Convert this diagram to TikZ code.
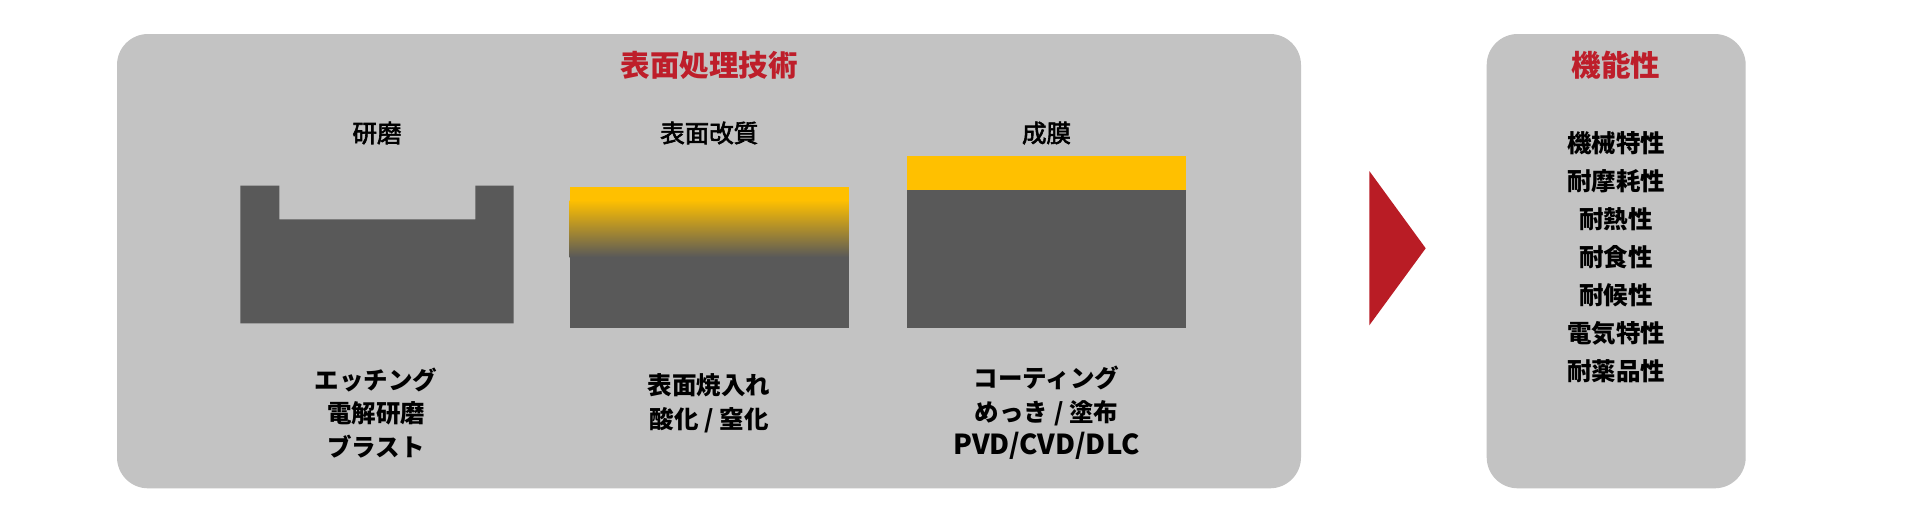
\documentclass[tikz,border=0pt]{standalone}
\usepackage{fontspec}
\setmainfont{Noto Sans CJK JP}
\newfontfamily\medfont[FakeBold=2.5]{Noto Sans CJK JP}
\definecolor{boxgray}{HTML}{C3C3C3}
\definecolor{dkg}{HTML}{595959}
\definecolor{ylw}{HTML}{FFC000}
\definecolor{rd}{HTML}{B91C25}
\definecolor{ttlred}{HTML}{BE1E2A}
\tikzset{
  titlelbl/.style={inner sep=0pt, text=ttlred, font=\bfseries\fontsize{29.5}{36}\selectfont},
  sublbl/.style={inner sep=0pt, text=black, font=\medfont\fontsize{24.5}{30}\selectfont},
  desclbl/.style={inner sep=0pt, text=black, align=center, font=\bfseries\fontsize{24.5}{33.7}\selectfont},
  listlbl/.style={inner sep=0pt, text=black, align=center, font=\bfseries\fontsize{24.5}{37.9}\selectfont},
  panel/.style={fill=boxgray, rounded corners=31pt},
}
\begin{document}
\begin{tikzpicture}[x=1pt,y=-1pt]
\useasboundingbox (0,0) rectangle (1920,509);
\fill[white] (0,0) rectangle (1920,509);
% panels
\fill[panel] (117,34) rectangle (1301,488.3);
\fill[panel] (1486.7,34) rectangle (1745.7,488.3);
% titles
\node[titlelbl] (ttech) at (709,65) {表面処理技術};
\node[titlelbl] (tfunc) at (1616.2,65) {機能性};
% subtitles
\node[sublbl] (skenma) at (377,133) {研磨};
\node[sublbl] (skaishitsu) at (709.2,133) {表面改質};
\node[sublbl] (sseimaku) at (1046.5,133) {成膜};
% polishing block
\fill[dkg] (240.3,185.7) -- (279.3,185.7) -- (279.3,219.3) -- (475.3,219.3)
  -- (475.3,185.7) -- (513.7,185.7) -- (513.7,323.3) -- (240.3,323.3) -- cycle;
% surface modification block
\fill[ylw] (569.7,187) rectangle (848.7,200.5);
\shade[top color=ylw, bottom color=dkg] (569.7,200) rectangle (848.7,257);
\fill[dkg] (569.7,256.5) rectangle (848.7,327.7);
% film block
\fill[ylw] (907,155.7) rectangle (1186,189.9);
\fill[dkg] (907,189.7) rectangle (1186,327.7);
% descriptions
\node[desclbl] (dkenma) at (376,413) {エッチング\\電解研磨\\ブラスト};
\node[desclbl] (dkaishitsu) at (709.2,403.5) {表面焼入れ\\酸化 / 窒化};
\node[desclbl] (dseimaku) at (1046.5,413) {コーティング\\めっき / 塗布\\{\fontsize{27.5}{33.7}\selectfont PVD/CVD/DLC}};
% arrow
\fill[rd] (1369.3,171) -- (1425.7,248.3) -- (1369.3,325.3) -- cycle;
% function list
\node[listlbl] (flist) at (1616.2,257) {機械特性\\耐摩耗性\\耐熱性\\耐食性\\耐候性\\電気特性\\耐薬品性};
\end{tikzpicture}
\end{document}
